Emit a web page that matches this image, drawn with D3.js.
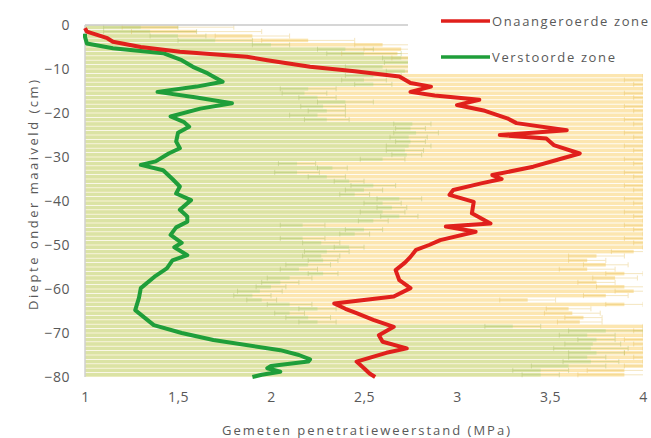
<!DOCTYPE html>
<html>
<head>
<meta charset="utf-8">
<script src="https://cdn.jsdelivr.net/npm/d3@7"></script>
<style>
  body { margin: 0; background: #fff; }
  text { font-family: "Open Sans", sans-serif; fill: #595959; }
</style>
</head>
<body>
<div id="chart"></div>
<script>
// depth classes (cm below surface), one bar per cm
const depths = d3.range(1, 81);

// background bars: undisturbed zone (yellow) and disturbed zone (green), with spread
const barOnaangeroerd = [
  1.5, 1.6, 1.9, 2.2, 2.6, 2.7, 2.68, 2.9,
  4.2, 4.2, 4.2, 4.2, 4.2, 4.2, 4.2, 4.2, 4.2, 4.2, 4.2, 4.2, 4.2, 4.2, 4.2, 4.2, 4.2, 4.2, 4.2, 4.2, 4.2, 4.2,
  4.2, 4.2, 4.2, 4.2, 4.2, 4.2, 4.2, 4.2, 4.2, 4.2, 4.2, 4.2, 4.2, 4.2, 4.2, 4.2, 4.2, 4.2, 4.2, 4.2, 4.2,
  3.95, 3.75, 3.7, 3.8, 3.7, 3.9, 3.85, 3.75, 3.9, 3.95, 3.8,
  3.38, 3.9, 3.6, 3.62, 3.68, 3.66,
  4.2, 4.2, 4.2, 4.2, 4.2, 4.2, 4.2, 4.2, 4.2, 4.2,
  3.9, 3.9
];
const errOnaangeroerd = [
  0.3, 0.35, 0.2, 0.25, 0.15, 0.2, 0.3, 0.25, 0.2, 0.3,
  0.25, 0.2, 0.3, 0.25, 0.2, 0.3, 0.25, 0.2, 0.3, 0.25,
  0.2, 0.3, 0.25, 0.2, 0.3, 0.25, 0.2, 0.3, 0.25, 0.2,
  0.3, 0.25, 0.2, 0.3, 0.25, 0.2, 0.3, 0.25, 0.2, 0.3,
  0.25, 0.2, 0.3, 0.25, 0.2, 0.3, 0.25, 0.2, 0.3, 0.25,
  0.2, 0.12, 0.15, 0.1, 0.12, 0.15, 0.1, 0.12, 0.1, 0.15,
  0.1, 0.12, 0.15, 0.1, 0.12, 0.15, 0.1, 0.12, 0.2, 0.25,
  0.2, 0.3, 0.25, 0.2, 0.3, 0.25, 0.2, 0.3, 0.2, 0.25
];
const barVerstoord = [
  1.3, 1.35, 1.5, 1.7, 2.0, 2.4, 2.5, 2.7, 2.76, 2.6,
  2.72, 2.55, 2.5, 2.55, 2.2, 2.18, 2.25, 2.4, 2.28, 2.3,
  2.25, 2.3, 2.76, 2.75, 2.78, 2.74, 2.75, 2.74, 2.72, 2.73,
  2.6, 2.14, 2.33, 2.14, 2.3, 2.42, 2.55, 2.5, 2.45, 2.69,
  2.6, 2.65, 2.6, 2.69, 2.55, 2.17, 2.5, 2.45, 2.17, 2.27,
  2.42, 2.3, 2.27, 2.28, 2.2, 2.15, 2.28, 2.1, 2.05, 2.0,
  1.94, 1.9, 1.95, 2.1, 2.25, 2.1, 2.2, 2.25, 3.3, 3.8,
  3.7, 3.75, 3.73, 3.72, 3.75, 3.7, 3.72, 3.6, 3.45, 3.45
];
const errVerstoord = [
  0.2, 0.25, 0.15, 0.2, 0.1, 0.15, 0.2, 0.1, 0.15, 0.2,
  0.1, 0.15, 0.12, 0.1, 0.15, 0.12, 0.1, 0.15, 0.12, 0.1,
  0.15, 0.12, 0.1, 0.08, 0.12, 0.1, 0.08, 0.12, 0.1, 0.08,
  0.12, 0.1, 0.08, 0.12, 0.1, 0.08, 0.12, 0.1, 0.08, 0.12,
  0.1, 0.08, 0.12, 0.1, 0.08, 0.12, 0.1, 0.08, 0.12, 0.1,
  0.08, 0.12, 0.1, 0.08, 0.12, 0.1, 0.08, 0.12, 0.1, 0.08,
  0.12, 0.1, 0.08, 0.12, 0.1, 0.08, 0.12, 0.1, 0.15, 0.2,
  0.15, 0.1, 0.15, 0.2, 0.15, 0.1, 0.15, 0.2, 0.15, 0.1
];

// mean penetration resistance profiles
const redDiepte = [-0.7, -1.5, -3.0, -3.8, -5.0, -6.1, -7.2, -8.0, -9.5, -10.5, -11.7, -13.2, -14.0, -15.2, -16.0,
  -17.0, -18.2, -19.5, -21.2, -22.3, -23.9, -25.0, -25.8, -27.3, -29.2, -30.5, -32.2, -34.1, -35.0, -36.0,
  -37.5, -38.6, -40.2, -42.8, -45.1, -45.8, -47.0, -48.9, -50.0, -51.1, -52.7, -54.0, -55.7, -58.0, -59.8,
  -61.7, -63.3, -64.5, -65.5, -67.0, -68.6, -70.5, -72.0, -73.5, -74.5, -76.5, -78.0, -79.2, -80.0];
const redWaarde = [1.0, 1.01, 1.12, 1.15, 1.30, 1.51, 1.87, 1.98, 2.21, 2.45, 2.69, 2.75, 2.86, 2.75, 2.88,
  3.12, 3.0, 3.15, 3.27, 3.32, 3.59, 3.23, 3.48, 3.52, 3.66, 3.55, 3.41, 3.19, 3.24, 3.13,
  2.98, 2.96, 3.09, 3.08, 3.18, 2.94, 3.10, 2.91, 2.85, 2.78, 2.75, 2.72, 2.67, 2.69, 2.75,
  2.66, 2.34, 2.40, 2.46, 2.55, 2.66, 2.58, 2.60, 2.73, 2.62, 2.46, 2.50, 2.53, 2.56];

const greenDiepte = [-2.0, -2.7, -4.2, -5.3, -6.4, -8.0, -9.5, -11.0, -12.9, -14.0, -15.2, -16.5, -17.8, -19.0,
  -20.8, -22.0, -23.1, -24.5, -26.5, -28.0, -29.2, -31.0, -31.8, -33.0, -35.0, -36.7, -38.3, -39.8, -42.0,
  -43.5, -44.7, -46.0, -47.7, -49.5, -50.5, -52.3, -53.5, -55.3, -57.0, -59.8, -62.0, -64.8, -66.5, -68.2,
  -70.0, -71.6, -73.9, -75.0, -76.0, -76.5, -77.5, -78.0, -78.8, -79.5, -80.0];
const greenWaarde = [1.0, 1.0, 1.01, 1.15, 1.42, 1.52, 1.58, 1.66, 1.74, 1.60, 1.39, 1.60, 1.79, 1.62,
  1.46, 1.53, 1.56, 1.50, 1.49, 1.51, 1.45, 1.38, 1.30, 1.42, 1.47, 1.51, 1.49, 1.57, 1.51,
  1.55, 1.55, 1.49, 1.46, 1.52, 1.48, 1.55, 1.47, 1.44, 1.38, 1.30, 1.29, 1.27, 1.32, 1.37,
  1.52, 1.69, 2.05, 2.15, 2.21, 2.20, 2.00, 1.98, 2.05, 1.95, 1.90];

const xTicks = [1, 1.5, 2, 2.5, 3, 3.5, 4];
const yTicks = [0, -10, -20, -30, -40, -50, -60, -70, -80];

const width = 651, height = 438;
const plot = { left: 85, right: 643, top: 25, bottom: 377 };

const svg = d3.select("#chart")
  .append("svg")
  .attr("width", width)
  .attr("height", height);

const x = d3.scaleLinear().domain([1, 4]).range([plot.left, plot.right]);
const y = d3.scaleLinear().domain([-80, 0]).range([plot.bottom, plot.top]);
const band = d3.scaleBand().domain(depths).range([plot.top, plot.bottom]).paddingInner(0.2).paddingOuter(0.1);

svg.append("clipPath").attr("id", "clip")
  .append("rect")
  .attr("x", plot.left).attr("y", plot.top - 5)
  .attr("width", plot.right - plot.left).attr("height", plot.bottom - plot.top + 10);

const area = svg.append("g").attr("clip-path", "url(#clip)");

// yellow bars
area.selectAll("rect.geel")
  .data(depths)
  .join("rect")
  .attr("class", "geel")
  .attr("x", x(1))
  .attr("y", d => band(d))
  .attr("width", (d, i) => x(barOnaangeroerd[i]) - x(1))
  .attr("height", band.bandwidth())
  .attr("fill", "#fce6b0");

// green bars on top
area.selectAll("rect.groen")
  .data(depths)
  .join("rect")
  .attr("class", "groen")
  .attr("x", x(1))
  .attr("y", d => band(d))
  .attr("width", (d, i) => x(barVerstoord[i]) - x(1))
  .attr("height", band.bandwidth())
  .attr("fill", "#d0e2a0")
  .attr("opacity", 0.75);

// error whiskers
function whiskers(vals, errs, color) {
  const g = area.append("g").attr("stroke", color).attr("stroke-width", 1).attr("opacity", 0.35);
  depths.forEach((d, i) => {
    const yc = band(d) + band.bandwidth() / 2;
    const lo = x(vals[i] - errs[i]), hi = x(vals[i] + errs[i]);
    g.append("line").attr("x1", lo).attr("x2", hi).attr("y1", yc).attr("y2", yc);
    g.append("line").attr("x1", lo).attr("x2", lo).attr("y1", yc - 2.5).attr("y2", yc + 2.5);
    g.append("line").attr("x1", hi).attr("x2", hi).attr("y1", yc - 2.5).attr("y2", yc + 2.5);
  });
}
whiskers(barOnaangeroerd, errOnaangeroerd, "#e2b94a");
whiskers(barVerstoord, errVerstoord, "#9fb85a");

// axis lines
svg.append("line")
  .attr("x1", x(1)).attr("x2", x(4)).attr("y1", y(0)).attr("y2", y(0))
  .attr("stroke", "#c8c8c8").attr("stroke-width", 1.5);
svg.append("line")
  .attr("x1", x(1)).attr("x2", x(1)).attr("y1", y(0)).attr("y2", y(-80))
  .attr("stroke", "#d0d0d0").attr("stroke-width", 1.5);

// profiles
const line = d3.line().x(d => x(d[1])).y(d => y(d[0]));
svg.append("path")
  .datum(greenDiepte.map((d, i) => [d, greenWaarde[i]]))
  .attr("d", line)
  .attr("fill", "none")
  .attr("stroke", "#1f9e3a")
  .attr("stroke-width", 4)
  .attr("stroke-linejoin", "round");
svg.append("path")
  .datum(redDiepte.map((d, i) => [d, redWaarde[i]]))
  .attr("d", line)
  .attr("fill", "none")
  .attr("stroke", "#e0201c")
  .attr("stroke-width", 4)
  .attr("stroke-linejoin", "round");

// y axis labels
const yAxis = svg.append("g")
  .attr("transform", `translate(${plot.left},0)`)
  .call(d3.axisLeft(y).tickValues(yTicks).tickSize(0).tickPadding(15).tickFormat(d3.format("d")));
yAxis.select(".domain").remove();
yAxis.selectAll("text")
  .style("font-family", "'Open Sans', sans-serif")
  .style("font-size", "14px")
  .style("letter-spacing", "0.5px")
  .attr("fill", "#595959");

// x axis labels (Dutch decimal comma)
const xAxis = svg.append("g")
  .attr("transform", `translate(0,${plot.bottom})`)
  .call(d3.axisBottom(x).tickValues(xTicks).tickSize(0).tickPadding(15)
    .tickFormat(d => String(d).replace(".", ",")));
xAxis.select(".domain").remove();
xAxis.selectAll("text")
  .style("font-family", "'Open Sans', sans-serif")
  .style("font-size", "14px")
  .style("letter-spacing", "0.5px")
  .attr("fill", "#595959");

svg.append("text")
  .attr("x", 366)
  .attr("y", 435)
  .attr("text-anchor", "middle")
  .attr("textLength", 288)
  .style("font-size", "13px")
  .text("Gemeten penetratieweerstand (MPa)");

svg.append("text")
  .attr("transform", "rotate(-90)")
  .attr("x", -195)
  .attr("y", 38)
  .attr("text-anchor", "middle")
  .attr("textLength", 230)
  .style("font-size", "13px")
  .text("Diepte onder maaiveld (cm)");

// legend
const legend = svg.append("g");
legend.append("rect")
  .attr("x", 408).attr("y", 0).attr("width", 243).attr("height", 74)
  .attr("fill", "#fff");
const legendItems = [
  { label: "Onaangeroerde zone", color: "#e0201c", len: 156 },
  { label: "Verstoorde zone", color: "#1f9e3a", len: 123 }
];
legendItems.forEach((item, i) => {
  const ly = 21 + i * 36;
  legend.append("line")
    .attr("x1", 441).attr("x2", 490).attr("y1", ly).attr("y2", ly)
    .attr("stroke", item.color).attr("stroke-width", 3.5);
  legend.append("text")
    .attr("x", 492).attr("y", ly + 5)
    .attr("textLength", item.len)
    .style("font-size", "13px")
    .text(item.label);
});
</script>
</body>
</html>
